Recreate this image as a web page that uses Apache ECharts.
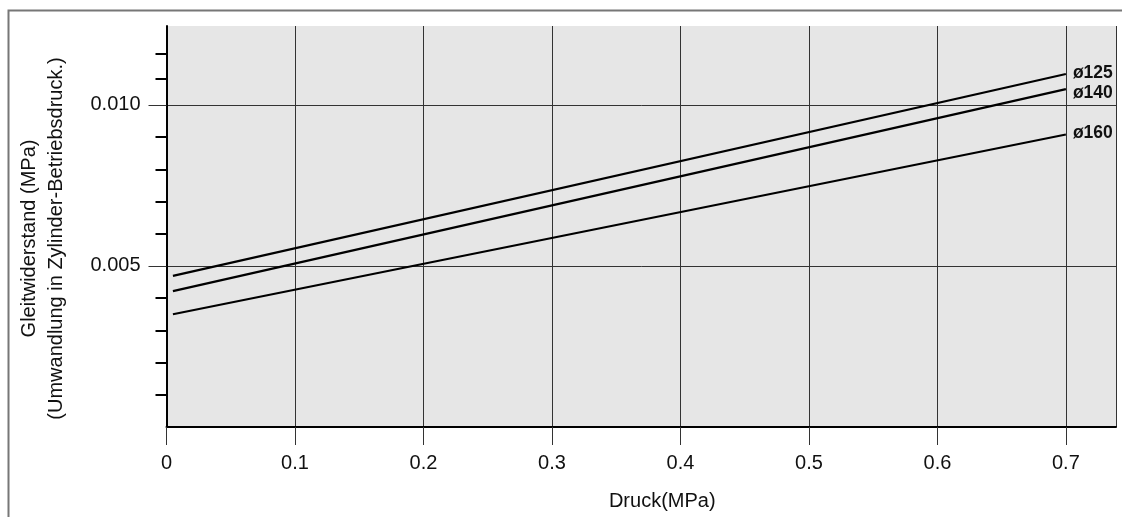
<!DOCTYPE html>
<html>
<head>
<meta charset="utf-8">
<script src="https://cdn.jsdelivr.net/npm/echarts@6/dist/echarts.min.js"></script>
<style>
  html, body { margin: 0; padding: 0; background: #fff; }
  #chart { width: 1122px; height: 517px; }
</style>
</head>
<body>
<div id="chart"></div>
<script>
// Druck (MPa), start und ende der kennlinien
var pressure = [0.005, 0.7];
// Gleitwiderstand (MPa) je zylinderdurchmesser
var d125 = [0.00469, 0.01096];
var d140 = [0.00422, 0.01049];
var d160 = [0.00350, 0.00908];
var seriesNames = ['ø125', 'ø140', 'ø160'];
// achsen
var xTicks = [0, 0.1, 0.2, 0.3, 0.4, 0.5, 0.6, 0.7];
var yLabels = [0.005, 0.010];
var yMinorTicks = [0.001, 0.002, 0.003, 0.004, 0.006, 0.007, 0.008, 0.009, 0.0108, 0.0116];

var font = "'Liberation Sans', Arial, Helvetica, sans-serif";

function pairs(xs, ys) {
  var out = [];
  for (var i = 0; i < xs.length; i++) out.push([xs[i], ys[i]]);
  return out;
}

var chart = echarts.init(document.getElementById('chart'));

var lineSeries = [d125, d140, d160].map(function (vals, i) {
  var offs = [[0, -1], [0, 4], [0, -1]];
  return {
    name: seriesNames[i],
    type: 'line',
    data: pairs(pressure, vals),
    showSymbol: false,
    symbol: 'none',
    silent: true,
    lineStyle: { color: '#000', width: 2.2 },
    endLabel: {
      show: true,
      formatter: '{a}',
      distance: 7,
      offset: offs[i],
      color: '#111',
      fontFamily: font,
      fontWeight: 'bold',
      fontSize: 17.5
    }
  };
});

var option = {
  backgroundColor: '#fff',
  animation: false,
  textStyle: { fontFamily: font },
  grid: {
    left: 166.5,
    top: 26,
    right: 6,
    bottom: 90,
    containLabel: false,
    show: true,
    backgroundColor: '#e6e6e6',
    borderWidth: 0
  },
  graphic: [{
    type: 'polyline',
    silent: true,
    shape: { points: [[8.5, 530], [8.5, 10.5], [1130, 10.5]] },
    style: { stroke: '#777', lineWidth: 2, fill: null }
  }],
  xAxis: {
    type: 'value',
    min: 0,
    max: 0.739,
    interval: 0.1,
    name: 'Druck(MPa)',
    nameLocation: 'middle',
    nameGap: 64,
    nameTextStyle: { color: '#111', fontSize: 20, fontFamily: font, padding: [0, 0, 0, 42] },
    axisLine: { show: true, onZero: false, lineStyle: { color: '#000', width: 2 } },
    axisTick: { show: true, length: 18, lineStyle: { color: '#333', width: 1 } },
    axisLabel: {
      margin: 26,
      color: '#111',
      fontSize: 20,
      fontFamily: font,
      showMaxLabel: false,
      formatter: function (v) {
        return xTicks.indexOf(Math.round(v * 10) / 10) >= 0 ? String(Math.round(v * 10) / 10) : '';
      }
    },
    splitLine: { show: true, lineStyle: { color: '#333', width: 1 } }
  },
  yAxis: [{
    // beschriftete werte mit gitterlinien
    type: 'value',
    min: 0,
    max: 0.01245,
    interval: 0.005,
    position: 'left',
    name: 'Gleitwiderstand (MPa)\n(Umwandlung in Zylinder-Betriebsdruck.)',
    nameLocation: 'middle',
    nameRotate: 90,
    nameGap: 97,
    nameTextStyle: { color: '#111', fontSize: 20, lineHeight: 27, fontFamily: font, align: 'center', padding: [0, 24, 0, 0] },
    axisLine: { show: false },
    axisTick: { show: true, length: 18, customValues: yLabels, lineStyle: { color: '#333', width: 1 } },
    axisLabel: {
      customValues: yLabels,
      margin: 26,
      color: '#111',
      fontSize: 20,
      fontFamily: font,
      formatter: function (v) { return v.toFixed(3); }
    },
    splitLine: { show: true, lineStyle: { color: '#333', width: 1 } }
  }, {
    // kurze dicke striche
    type: 'value',
    min: 0,
    max: 0.01245,
    interval: 0.001,
    position: 'left',
    axisLine: { show: true, lineStyle: { color: '#000', width: 2 } },
    axisTick: { show: true, length: 11, customValues: yMinorTicks, lineStyle: { color: '#000', width: 2 } },
    axisLabel: { show: false },
    splitLine: { show: false }
  }],
  series: lineSeries
};

chart.setOption(option);
</script>
</body>
</html>
